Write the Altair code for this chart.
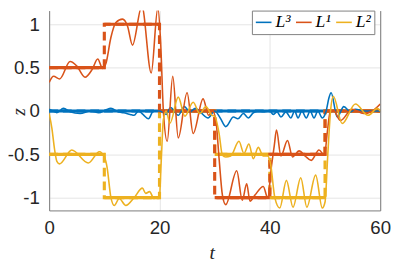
import altair as alt
import pandas as pd

SERIES = ["L³", "L¹", "L²"]
COLORS = ["#0072BD", "#D95319", "#EDB120"]

# L^1 (orange) response
T1 = [0, 0.8, 1.9, 3.8, 5.0, 6.5, 7.8, 8.8, 9.7, 10.3, 11.2, 12.1, 13.3, 14.2, 15.1,
      16.8, 18.5, 19.7, 20.2, 20.7, 21.4, 22.4, 23.4, 25.0, 26.1, 27.9, 28.9, 29.6,
      30.2, 30.8, 31.4, 32.0, 34.0, 35.0, 35.8, 36.4, 37.3, 38.8, 39.6, 40.3, 40.8,
      41.2, 42.0, 43.2, 44.1, 45.3, 46.4, 47.5, 48.9, 49.9, 50.4, 50.9, 51.5, 52.8,
      54.9, 57.0, 58.6, 60]
Z1 = [0.33, 0.40, 0.37, 0.57, 0.52, 0.39, 0.48, 0.60, 0.49, 0.55, 0.85, 1.02, 1.06, 0.98, 0.76,
      1.21, 0.44, 1.19, 0.80, 0.0, -0.35, 0.40, -0.31, 0.21, -0.26, 0.14, -0.05, 0.0,
      -0.1, -0.55, -0.97, -1.08, -0.69, -1.03, -0.84, -1.04, -0.97, -0.87, -1.0, -0.63, -0.40,
      -0.22, -0.52, -0.34, -0.53, -0.46, -0.52, -0.57, -0.45, -0.51, -0.25, -0.02, 0.01, -0.11,
      0.02, -0.03, 0.0, 0.08]

# L^2 (yellow) response
T2 = [0, 0.5, 1.0, 1.4, 1.9, 4.1, 7.1, 9.1, 10.0, 10.5, 11.2, 11.8, 12.7, 13.9, 15.4,
      16.9, 17.5, 18.2, 19.0, 19.6, 20.0, 20.3, 20.7, 21.2, 21.9, 23.4, 24.6, 26.1, 27.3,
      28.4, 29.5, 30.0, 30.8, 31.4, 32.0, 32.9, 34.4, 35.3, 36.2, 37.0, 37.9, 38.8, 39.6,
      40.1, 40.9, 41.8, 43.0, 44.2, 45.6, 46.7, 48.3, 49.5, 50.0, 50.5, 51.0, 51.5, 53.1,
      55.5, 57.8, 59.5, 60]
Z2 = [-0.03, -0.2, -0.45, -0.58, -0.61, -0.45, -0.60, -0.47, -0.53, -0.65, -1.0, -1.09, -1.01, -1.09, -1.0,
      -0.89, -0.95, -0.93, -1.01, -1.0, -0.98, -0.6, -0.1, 0.0, -0.14, 0.16, -0.06, 0.10, -0.03,
      0.05, -0.05, -0.06, -0.26, -0.51, -0.53, -0.52, -0.35, -0.49, -0.38, -0.55, -0.42, -0.52, -0.52,
      -0.6, -1.0, -1.12, -0.80, -1.11, -0.77, -1.11, -0.74, -1.12, -1.05, -0.5, 0.0, 0.17, -0.145,
      0.08, -0.05, 0.03, 0.0]

# L^3 (blue) response
T3 = [0, 0.7, 1.4, 2.6, 3.8, 5.6, 7.5, 9.0, 10.2, 11.2, 12.5, 13.5, 14.7, 15.4, 16.2,
      17.0, 18.0, 18.9, 20.0, 20.7, 21.2, 22.0, 23.4, 24.5, 25.5, 26.5, 27.5, 28.8, 30.0,
      31.0, 32.0, 33.4, 34.2, 35.2, 36.1, 37.0, 38.0, 39.0, 40.0, 40.6, 41.3, 42.0, 42.9,
      43.8, 44.5, 45.1, 45.8, 46.6, 47.3, 48.0, 48.7, 49.5, 50.2, 50.7, 51.1, 52.2, 53.4,
      54.6, 55.5, 57.0, 60]
Z3 = [0.02, 0.0, -0.02, 0.03, -0.01, -0.03, 0.0, -0.02, 0.01, 0.03, -0.01, -0.02, -0.04, -0.05, 0.0,
      -0.04, -0.09, 0.0, 0.0, -0.02, -0.04, 0.04, -0.05, 0.05, -0.01, 0.03, -0.02, -0.08, 0.0,
      -0.08, -0.18, -0.07, -0.09, -0.03, -0.08, -0.02, 0.0, -0.01, 0.0, -0.04, -0.01, -0.07, -0.01,
      -0.08, 0.0, -0.08, 0.0, -0.08, 0.0, -0.08, 0.0, -0.08, 0.0, 0.15, 0.21, -0.07, 0.05,
      -0.01, 0.02, 0.0, 0.0]

# reference (desired) step values
REF_T = [0, 10, 20, 30, 40, 50, 60]
REF_L1 = [0.5, 1, 0, -1, -0.5, 0]
REF_L2 = [-0.5, -1, 0, -0.5, -1, 0]
REF_L3 = [0, 0, 0, 0, 0, 0]

X_TICKS = [0, 20, 40, 60]
Y_TICKS = [-1, -0.5, 0, 0.5, 1]

# ---- tables
thin_rows = []
for name, ts, zs in [("L³", T3, Z3), ("L¹", T1, Z1), ("L²", T2, Z2)]:
    for t, z in zip(ts, zs):
        thin_rows.append({"t": t, "z": z, "series": name})
thin = pd.DataFrame(thin_rows)

step_rows, seg_rows = [], []
for name, ref in [("L³", REF_L3), ("L²", REF_L2), ("L¹", REF_L1)]:
    for i, v in enumerate(ref):
        step_rows.append({"t": REF_T[i], "z": v, "series": name})
        seg_rows.append({"t0": REF_T[i], "t1": REF_T[i + 1], "z": v, "series": name})
    step_rows.append({"t": REF_T[-1], "z": ref[-1], "series": name})
steps = pd.DataFrame(step_rows)
segs = pd.DataFrame(seg_rows)

xscale = alt.Scale(domain=[0, 60], nice=False)
yscale = alt.Scale(domain=[-1.147, 1.158], nice=False, zero=False)
COLOR_OF = dict(zip(SERIES, COLORS))

AX = "#7a7a7a"
GRID = "#e4e4e4"

x_axis = alt.Axis(values=X_TICKS, title="t", grid=True, gridColor=GRID, ticks=False,
                  domain=True, domainColor=AX, labelPadding=9, labelFont="Liberation Sans",
                  labelFontSize=19, labelColor="#262626", labelFlush=False,
                  titleFont="Liberation Serif", titleFontStyle="italic", titleFontWeight="normal",
                  titleFontSize=20, titleColor="#262626", titleX=166, titleY=49,
                  titleBaseline="alphabetic", titleAlign="center")
y_axis = alt.Axis(values=Y_TICKS, title="z", grid=True, gridColor=GRID, ticks=False,
                  domain=True, domainColor=AX, labelPadding=10, labelFont="Liberation Sans",
                  labelFontSize=19, labelColor="#262626", labelExpr="'' + datum.value",
                  titleFont="Liberation Serif", titleFontStyle="italic", titleFontWeight="normal",
                  titleFontSize=19, titleColor="#262626", titleX=-31, titleY=103,
                  titleBaseline="middle", titleAlign="center")
y_right = alt.Axis(orient="right", labels=False, ticks=False, grid=False, title=None,
                   domain=True, domainColor=AX)

layers = []
# thick reference lines: blue, yellow, orange
first = True
for name in ["L³", "L²", "L¹"]:
    col = COLOR_OF[name]
    layers.append(
        alt.Chart(steps).transform_filter(alt.datum.series == name)
        .mark_line(interpolate="step-after", strokeDash=[9, 5], strokeWidth=3.2, clip=True)
        .encode(
            x=alt.X("t:Q", scale=xscale, axis=x_axis),
            y=alt.Y("z:Q", scale=yscale, axis=y_axis if first else None),
            stroke=alt.value(col),
        )
    )
    layers.append(
        alt.Chart(segs).transform_filter(alt.datum.series == name)
        .mark_rule(strokeWidth=3.2, clip=True)
        .encode(
            x=alt.X("t0:Q", scale=xscale, axis=x_axis),
            x2="t1:Q",
            y=alt.Y("z:Q", scale=yscale, axis=y_right if first else None),
            stroke=alt.value(col),
        )
    )
    first = False

legend = alt.Legend(orient="none", legendX=207, legendY=0, direction="horizontal", title=None,
                    symbolType="stroke", symbolSize=256, symbolStrokeWidth=1.6,
                    labelFont="Liberation Serif", labelFontStyle="italic", labelFontSize=18,
                    labelColor="black", padding=3, columnPadding=1, labelOffset=3,
                    strokeColor="#7f7f7f", fillColor="white")

for name in SERIES:
    layers.append(
        alt.Chart(thin).transform_filter(alt.datum.series == name)
        .mark_line(strokeWidth=1.6, interpolate="monotone", clip=True)
        .encode(
            x=alt.X("t:Q", scale=xscale, axis=x_axis),
            y=alt.Y("z:Q", scale=yscale, axis=None),
            color=alt.Color("series:N", scale=alt.Scale(domain=SERIES, range=COLORS), legend=legend),
        )
    )

chart = alt.layer(*layers).resolve_axis(y="independent").properties(
    width=338, height=204,
    autosize=alt.AutoSizeParams(type="none"),
    padding={"left": 42, "top": 0, "right": 11, "bottom": 50},
).configure_view(stroke=None)

chart.save("out.html", embed_options={"renderer": "svg", "actions": False})
